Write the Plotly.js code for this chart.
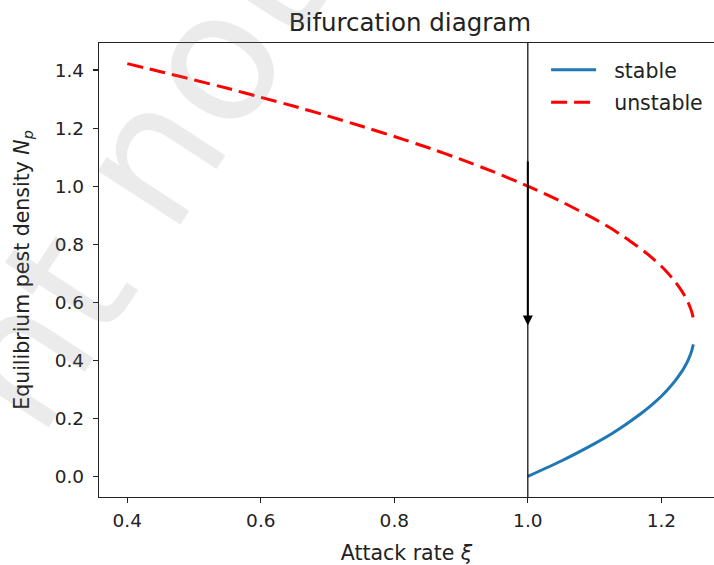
<!DOCTYPE html>
<html>
<head>
<meta charset="utf-8">
<script src="https://cdn.plot.ly/plotly-3.0.1.min.js"></script>
<style>html,body{margin:0;padding:0;background:#fff;}#chart{width:714px;height:565px;}</style>
</head>
<body>
<div id="chart"></div>
<script>
const xiUnstable = [0.40,0.45,0.50,0.55,0.60,0.65,0.70,0.75,0.80,0.85,0.90,0.95,1.00,1.05,1.10,1.125,1.15,1.175,1.19,1.20,1.21,1.22,1.23,1.235,1.24,1.245,1.248];
const NUnstable  = [1.422,1.394,1.366,1.337,1.306,1.275,1.242,1.207,1.171,1.133,1.092,1.048,1.000,0.947,0.887,0.854,0.816,0.774,0.745,0.724,0.700,0.673,0.641,0.622,0.600,0.571,0.545];
const xiStable   = [1.00,1.05,1.10,1.125,1.15,1.175,1.19,1.20,1.21,1.22,1.23,1.235,1.24,1.245,1.248];
const NStable    = [0.000,0.053,0.113,0.146,0.184,0.226,0.255,0.276,0.300,0.327,0.359,0.378,0.400,0.429,0.455];
const xTicks = [0.4,0.6,0.8,1.0,1.2];
const yTicks = [0.0,0.2,0.4,0.6,0.8,1.0,1.2,1.4];
const criticalXi = 1.0;
const arrowFrom = 1.09, arrowTo = 0.52;

const font = "DejaVu Sans, Verdana, sans-serif";
const traces = [
  {x: xiStable, y: NStable, mode: 'lines', name: '&nbsp;&nbsp;stable', legendgroup: 'a',
   line: {color: '#1f77b4', width: 3, shape: 'spline', smoothing: 0.5}},
  {x: xiUnstable, y: NUnstable, mode: 'lines', name: '&nbsp;&nbsp;unstable', legendgroup: 'b',
   line: {color: '#ff0000', width: 3, dash: '16px,7px', shape: 'spline', smoothing: 0.5}}
];
const axisCommon = {
  showgrid: false, zeroline: false, showline: true, linecolor: '#222', linewidth: 1.2,
  ticks: 'outside', ticklen: 5, tickwidth: 1.1, tickcolor: '#222',
  tickfont: {family: font, size: 18.5, color: '#222'}, tickformat: '.1f'
};
const layout = {
  width: 714, height: 565,
  margin: {l: 99, r: 0, t: 43, b: 68},
  paper_bgcolor: '#fff', plot_bgcolor: '#fff',
  font: {family: font, color: '#222'},
  title: {text: 'Bifurcation diagram', font: {family: font, size: 24.5, color: '#222'},
          x: 410/714, xanchor: 'center', y: 1 - 22/565, yanchor: 'middle'},
  xaxis: Object.assign({}, axisCommon, {
    range: [0.3576, 1.2789], tickvals: xTicks, mirror: true, ticklabelstandoff: 2,
    title: {text: 'Attack rate <i>ξ</i>', font: {family: font, size: 20.5, color: '#222'}, standoff: 15}
  }),
  yaxis: Object.assign({}, axisCommon, {
    range: [-0.0711, 1.4931], tickvals: yTicks, ticklabelstandoff: 5,
    title: {text: 'Equilibrium pest density <i>N<sub>p</sub></i>', font: {family: font, size: 20.5, color: '#222'}, standoff: 19}
  }),
  showlegend: true,
  legend: {x: 0.727, y: 0.985, xanchor: 'left', yanchor: 'top', bgcolor: 'rgba(255,255,255,0.8)',
           borderwidth: 0, font: {family: font, size: 20.5, color: '#222'}, itemwidth: 45,
           traceorder: 'grouped', tracegroupgap: 3},
  shapes: [{type: 'line', xref: 'x', yref: 'paper', x0: criticalXi, x1: criticalXi, y0: 0, y1: 1,
            line: {color: '#000', width: 1.2}}],
  annotations: [
    {xref: 'x', yref: 'y', axref: 'x', ayref: 'y', x: criticalXi, y: arrowTo, ax: criticalXi, ay: arrowFrom,
     showarrow: true, arrowhead: 2, arrowsize: 1, arrowwidth: 2, arrowcolor: '#000', text: ''},
    {xref: 'paper', yref: 'paper', xanchor: 'center', yanchor: 'middle',
     x: (133-99)/615, y: (497-182)/454, text: 'nt not', showarrow: false,
     textangle: -57, font: {family: font, size: 180, color: 'rgba(128,128,128,0.16)'}}
  ]
};
Plotly.newPlot('chart', traces, layout, {displayModeBar: false, staticPlot: true});
</script>
</body>
</html>
